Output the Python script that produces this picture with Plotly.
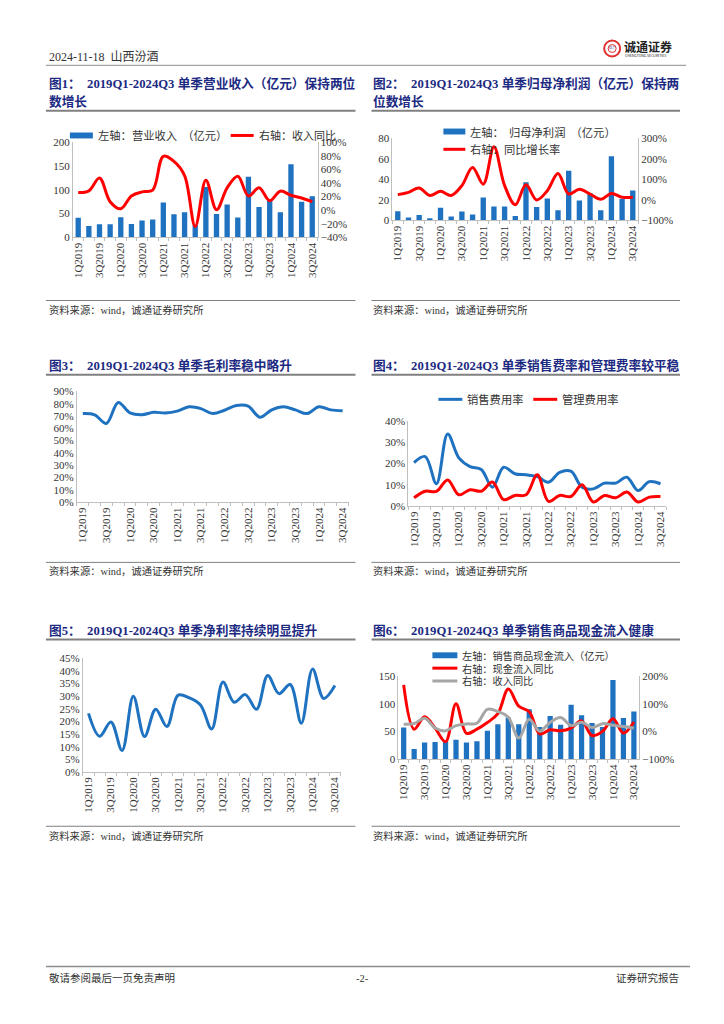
import plotly.graph_objects as go

# ---------------- data ----------------
quarters = ["1Q2019", "2Q2019", "3Q2019", "4Q2019", "1Q2020", "2Q2020", "3Q2020", "4Q2020",
            "1Q2021", "2Q2021", "3Q2021", "4Q2021", "1Q2022", "2Q2022", "3Q2022", "4Q2022",
            "1Q2023", "2Q2023", "3Q2023", "4Q2023", "1Q2024", "2Q2024", "3Q2024"]
tick_labels = ["1Q2019", "", "3Q2019", "", "1Q2020", "", "3Q2020", "", "1Q2021", "", "3Q2021", "",
               "1Q2022", "", "3Q2022", "", "1Q2023", "", "3Q2023", "", "1Q2024", "", "3Q2024"]

revenue = [41, 23.5, 27.5, 27.5, 42, 28, 35.5, 37.5, 73.5, 48.5, 52.5, 26, 106, 49, 69, 41.5,
           127.5, 64, 77, 52.5, 154, 75, 86.5]
revenue_yoy = [26, 28.5, 47.5, 12.5, 2, 21, 27, 29.5, 79.5, 72, 51, -24, 44, 0.5, 33, 50,
               21, 33, 14, 28, 22, 18, 12.5]

net_profit = [9.0, 2.8, 5.3, 2.2, 12.4, 3.8, 8.8, 5.8, 22.5, 13.6, 13.6, 4.3, 37.2, 13.2, 21.3, 10.0,
              48.6, 19.5, 26.5, 10.0, 62.6, 21.0, 29.3]
net_profit_yoy = [26, 37, 58, 22, 42, 22, 70, 158, 77, 260, 70, -23, 74, 0, 45, 129,
                  29, 52, 29, 3, 32, 13, 13]

gross_margin = [72, 71, 64, 81, 72.5, 71, 73, 72.5, 74, 77.5, 76, 72, 74.7, 78.5, 78, 69,
                75, 77.5, 75, 72, 77.5, 75, 74.3]

selling_ratio = [20.5, 23.3, 10.5, 33.9, 22.7, 18.6, 17.2, 8.9, 18.3, 15.2, 14.7, 13.9, 11.2, 15.9, 16.4, 8.9,
                 8.1, 10.8, 10.8, 13.6, 7.3, 11.5, 10.5]
admin_ratio = [3.9, 7.0, 6.9, 12.3, 5.3, 7.7, 7.0, 11.3, 3.0, 5.0, 5.3, 14.7, 2.2, 5.0, 4.5, 10.0,
               1.9, 5.0, 3.9, 6.6, 1.9, 4.2, 4.5]

net_margin = [23.2, 14.1, 19.8, 8.5, 30.0, 14.0, 24.8, 18.0, 30.4, 29.3, 26.5, 17.0, 35.6, 27.6, 30.6, 24.8,
              38.2, 31.0, 34.6, 19.3, 40.7, 29.1, 34.2]

cash_inflow = [57, 18, 30, 31, 34, 35, 30, 32, 51, 63, 75, 63, 90, 58, 78, 62,
               98, 79, 65, 58, 143, 74, 86]
cash_yoy = [168, 8, 53, 12, -37, 100, -7, 8, 32, 64, 153, 91, 71, -9, 6, 2,
            12, 38, -15, 0, 46, -6, 34]

# ---------------- styling helpers ----------------
W, H = 724, 1024
def px(x):
    return x / W
def py(y):
    return 1 - y / H

SERIF = "Liberation Serif, Noto Sans CJK SC"
SANS = "Noto Sans CJK SC, Noto Sans"
BLUE = "#1F72C0"
RED = "#FF0000"
GRAY = "#A6A6A6"
NAVY = "#1C2A82"
AXC = "#BFBFBF"
TXT = "#333333"


def xax(x0, x1, anchor):
    return dict(domain=[px(x0), px(x1)], anchor=anchor, type="category",
                categoryorder="array", categoryarray=quarters,
                tickmode="array", tickvals=quarters, ticktext=tick_labels,
                tickangle=-90, ticks="outside", tickson="boundaries", ticklen=3,
                tickcolor=AXC, showline=True, linecolor=AXC, linewidth=1,
                showgrid=False, zeroline=False, range=[-0.5, 22.5],
                tickfont=dict(family=SERIF, size=11, color=TXT), fixedrange=True)


def yax(top, bottom, anchor, rng, dtick, suffix="", side="left", overlaying=None):
    d = dict(anchor=anchor, range=rng, dtick=dtick, tick0=rng[0], ticksuffix=suffix,
             side=side, showline=True, linecolor=AXC, linewidth=1, showgrid=False,
             zeroline=False, ticks="", tickfont=dict(family=SERIF, size=11, color=TXT),
             fixedrange=True)
    if overlaying:
        d["overlaying"] = overlaying
    else:
        d["domain"] = [py(bottom), py(top)]
    return d


fig = go.Figure()

def line(y, xa, ya, color):
    return go.Scatter(x=quarters, y=y, xaxis=xa, yaxis=ya, mode="lines",
                      line=dict(color=color, width=3, shape="spline", smoothing=1),
                      showlegend=False, hoverinfo="skip")

def bars(y, xa, ya):
    return go.Bar(x=quarters, y=y, xaxis=xa, yaxis=ya, marker=dict(color=BLUE, line=dict(width=0)),
                  width=0.5, showlegend=False, hoverinfo="skip")

# chart 1
fig.add_trace(bars(revenue, "x", "y"))
fig.add_trace(line(revenue_yoy, "x", "y2", RED))
# chart 2
fig.add_trace(bars(net_profit, "x2", "y3"))
fig.add_trace(line(net_profit_yoy, "x2", "y4", RED))
# chart 3
fig.add_trace(line(gross_margin, "x3", "y5", BLUE))
# chart 4
fig.add_trace(line(selling_ratio, "x4", "y6", BLUE))
fig.add_trace(line(admin_ratio, "x4", "y6", RED))
# chart 5
fig.add_trace(line(net_margin, "x5", "y7", BLUE))
# chart 6
fig.add_trace(bars(cash_inflow, "x6", "y8"))
fig.add_trace(line(cash_yoy, "x6", "y9", RED))
fig.add_trace(line(revenue_yoy, "x6", "y9", GRAY))

layout = dict(
    width=W, height=H, autosize=False,
    margin=dict(l=0, r=0, t=0, b=0, pad=0),
    paper_bgcolor="white", plot_bgcolor="rgba(0,0,0,0)",
    showlegend=False, bargap=0.5,
    xaxis=xax(72, 317, "y"),
    yaxis=yax(138, 234, "x", [0, 200], 50),
    yaxis2=yax(138, 234, "x", [-40, 100], 20, "%", "right", "y"),
    xaxis2=xax(392, 638, "y3"),
    yaxis3=yax(134, 217, "x2", [0, 80], 20),
    yaxis4=yax(134, 217, "x2", [-100, 300], 100, "%", "right", "y3"),
    xaxis3=xax(76, 348, "y5"),
    yaxis5=yax(390, 502, "x3", [0, 90], 10, "%"),
    xaxis4=xax(408, 666, "y6"),
    yaxis6=yax(420, 506, "x4", [0, 40], 10, "%"),
    xaxis5=xax(82, 340, "y7"),
    yaxis7=yax(660, 775, "x5", [0, 45], 5, "%"),
    xaxis6=xax(398, 639, "y8"),
    yaxis8=yax(678, 762, "x6", [0, 150], 50),
    yaxis9=yax(678, 762, "x6", [-100, 200], 100, "%", "right", "y8"),
)
fig.update_layout(**layout)

shapes = []
annotations = []

def hline(x0, x1, y, color="#808080", width=1):
    shapes.append(dict(type="line", xref="paper", yref="paper", x0=px(x0), x1=px(x1),
                       y0=py(y), y1=py(y), line=dict(color=color, width=width)))

def text(x, y, s, size=11, color=TXT, family=SANS, xanchor="left", bold=False):
    if bold:
        s = "<b>" + s + "</b>"
    annotations.append(dict(xref="paper", yref="paper", x=px(x), y=py(y), text=s,
                            showarrow=False, xanchor=xanchor, yanchor="middle",
                            font=dict(family=family, size=size, color=color)))

def swatch_bar(x0, x1, y):
    shapes.append(dict(type="rect", xref="paper", yref="paper", x0=px(x0), x1=px(x1),
                       y0=py(y + 3), y1=py(y - 3), line=dict(width=0), fillcolor=BLUE))

def swatch_line(x0, x1, y, color):
    shapes.append(dict(type="line", xref="paper", yref="paper", x0=px(x0), x1=px(x1),
                       y0=py(y), y1=py(y), line=dict(color=color, width=3)))

# header
text(46, 52, "2024-11-18  山西汾酒", size=12, family=SERIF)
hline(45, 686, 60, "#8C8C8C", 1)
shapes.append(dict(type="circle", xref="paper", yref="paper", x0=px(604), x1=px(620),
                   y0=py(51), y1=py(35), line=dict(color="#E03030", width=2), fillcolor="white"))
shapes.append(dict(type="circle", xref="paper", yref="paper", x0=px(608), x1=px(616),
                   y0=py(47), y1=py(39), line=dict(color="#E03030", width=1), fillcolor="white"))
text(612, 43, "DCT", size=3, color=NAVY, family=SANS, xanchor="center")
text(622, 41, "诚通证券", size=12, color="#222222", family=SANS, bold=True)
text(623, 50, "CHENGTONG SECURITIES", size=3.5, color="#222222", family=SANS)

# titles
TS = 12.7
text(46, 78, "图1：  2019Q1-2024Q3 单季营业收入（亿元）保持两位", TS, NAVY, SERIF, bold=True)
text(46, 97, "数增长", TS, NAVY, SERIF, bold=True)
text(371, 78, "图2：  2019Q1-2024Q3 单季归母净利润（亿元）保持两", TS, NAVY, SERIF, bold=True)
text(371, 97, "位数增长", TS, NAVY, SERIF, bold=True)
text(46, 364, "图3：  2019Q1-2024Q3 单季毛利率稳中略升", TS, NAVY, SERIF, bold=True)
text(371, 364, "图4：  2019Q1-2024Q3 单季销售费率和管理费率较平稳", TS, NAVY, SERIF, bold=True)
text(46, 632, "图5：  2019Q1-2024Q3 单季净利率持续明显提升", TS, NAVY, SERIF, bold=True)
text(371, 632, "图6：  2019Q1-2024Q3 单季销售商品现金流入健康", TS, NAVY, SERIF, bold=True)
for y in (106, 373, 641):
    hline(45, 355, y, "#808080", 2)
    hline(371, 680, y, "#808080", 2)

# sources
for y_line, y_txt in ((298, 308), (563, 572), (830, 840)):
    hline(45, 355, y_line, "#808080", 1)
    hline(371, 680, y_line, "#808080", 1)
    text(46, y_txt, "资料来源：wind，诚通证券研究所", 10.3, TXT, SERIF)
    text(371, y_txt, "资料来源：wind，诚通证券研究所", 10.3, TXT, SERIF)

# legends
swatch_bar(69, 92, 131)
text(95, 131, "左轴：营业收入  （亿元）", 11.3)
swatch_line(230, 253, 131, RED)
text(256, 131, "右轴：收入同比", 11)

swatch_bar(443, 465, 127)
text(468, 127, "左轴：  归母净利润  （亿元）", 11.3)
swatch_line(443, 465, 145, RED)
text(468, 145, "右轴：同比增长率", 11.3)

swatch_line(438, 462, 398, BLUE)
text(465, 398, "销售费用率", 11.3)
swatch_line(533, 557, 398, RED)
text(560, 398, "管理费用率", 11.3)

swatch_bar(432, 457, 657)
text(460, 657, "左轴：销售商品现金流入（亿元）", 10.2)
swatch_line(432, 457, 670, RED)
text(460, 670, "右轴：现金流入同比", 10.2)
swatch_line(432, 457, 683, GRAY)
text(460, 683, "右轴：收入同比", 10.2)

# footer
hline(45, 690, 972, "#8C8C8C", 1.5)
text(46, 984, "敬请参阅最后一页免责声明", 10.5, TXT, SERIF)
text(362, 984, "-2-", 10.5, TXT, SERIF, xanchor="center")
text(681, 984, "证券研究报告", 10.5, TXT, SERIF, xanchor="right")

fig.update_layout(shapes=shapes, annotations=annotations)
fig.write_html("out.html",
               config={"displayModeBar": False, "staticPlot": True},
               post_script="document.body.style.margin='0';document.body.style.padding='0';"
                           "document.body.style.overflow='hidden';")
